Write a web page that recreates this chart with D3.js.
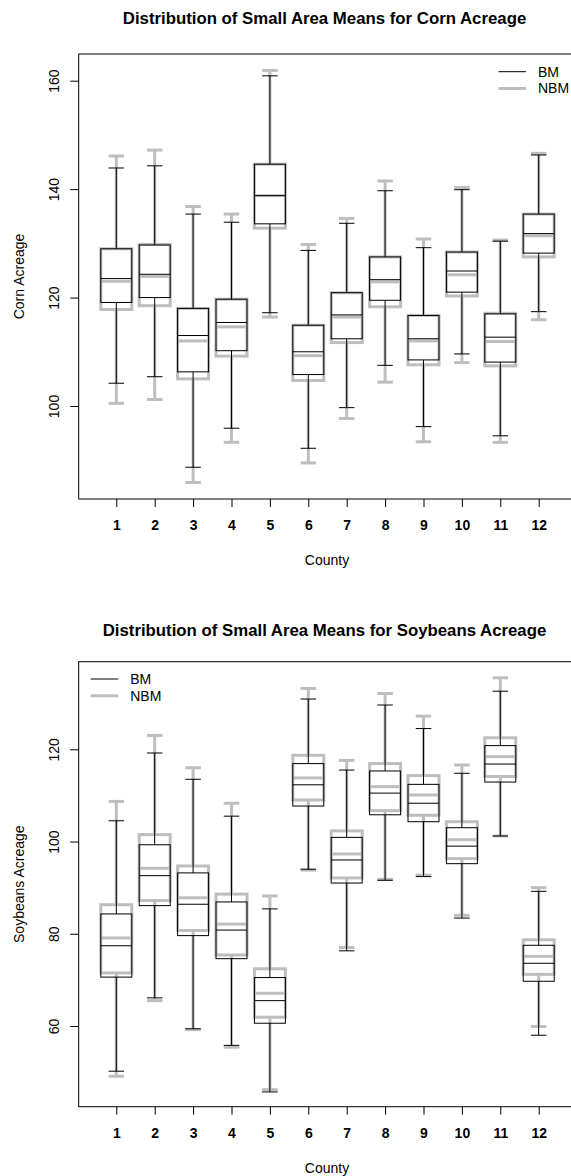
<!DOCTYPE html>
<html>
<head>
<meta charset="utf-8">
<script src="https://cdn.jsdelivr.net/npm/d3@7"></script>
<style>
  html, body { margin: 0; padding: 0; background: #fff; }
  svg { display: block; font-family: "Liberation Sans", Arial, Helvetica, sans-serif; }
</style>
</head>
<body>
<svg id="chart" width="571" height="1176"></svg>
<script>
// ---- data (five-number summaries: lower whisker, Q1, median, Q3, upper whisker) ----
const counties = [1, 2, 3, 4, 5, 6, 7, 8, 9, 10, 11, 12];
const cornTicks = [100, 120, 140, 160];
const soyTicks = [60, 80, 100, 120];
const seriesNames = ["BM", "NBM"];

const cornBM = [
  [104.2, 119.1, 123.5, 129.0, 143.9],
  [105.4, 120.0, 124.3, 129.7, 144.3],
  [88.7, 106.3, 113.0, 118.0, 135.4],
  [95.9, 110.2, 115.4, 119.7, 133.9],
  [117.2, 133.6, 138.8, 144.6, 160.9],
  [92.2, 105.8, 110.0, 114.9, 128.7],
  [99.7, 112.4, 116.8, 120.9, 133.7],
  [107.5, 119.5, 123.3, 127.5, 139.7],
  [96.2, 108.5, 112.4, 116.7, 129.2],
  [109.6, 121.0, 124.9, 128.4, 139.9],
  [94.5, 108.1, 112.7, 117.0, 130.4],
  [117.4, 128.2, 131.8, 135.4, 146.3]
];
const cornNBM = [
  [100.5, 117.8, 123.0, 129.0, 146.1],
  [101.2, 118.5, 123.9, 129.8, 147.2],
  [85.9, 105.0, 112.0, 118.0, 136.8],
  [93.3, 109.2, 114.6, 119.7, 135.4],
  [116.4, 132.8, 138.8, 144.6, 161.9],
  [89.5, 104.7, 109.3, 114.9, 129.8],
  [97.7, 111.7, 116.4, 120.9, 134.6],
  [104.4, 118.3, 122.9, 127.5, 141.5],
  [93.4, 107.6, 112.0, 116.7, 130.8],
  [108.0, 120.3, 124.2, 128.4, 140.3],
  [93.3, 107.4, 111.9, 117.1, 130.6],
  [115.9, 127.5, 131.4, 135.4, 146.6]
];
const soyBM = [
  [50.2, 70.6, 77.4, 84.3, 104.5],
  [66.1, 86.1, 92.6, 99.3, 119.2],
  [59.4, 79.6, 86.4, 93.2, 113.5],
  [55.8, 74.6, 80.8, 86.9, 105.5],
  [45.7, 60.6, 65.5, 70.5, 85.4],
  [94.0, 107.7, 112.3, 116.9, 130.9],
  [76.3, 91.0, 96.0, 100.9, 115.5],
  [91.6, 105.8, 110.5, 115.3, 129.6],
  [92.4, 104.3, 108.3, 112.4, 124.5],
  [83.4, 95.2, 99.0, 103.0, 114.8],
  [101.2, 112.9, 116.8, 120.8, 132.6],
  [58.0, 69.7, 73.6, 77.5, 89.2]
];
const soyNBM = [
  [49.1, 71.5, 79.1, 86.3, 108.7],
  [65.5, 87.2, 94.2, 101.5, 123.0],
  [59.2, 80.7, 87.8, 94.7, 116.0],
  [55.4, 75.4, 82.1, 88.6, 108.3],
  [46.2, 61.9, 67.1, 72.4, 88.2],
  [93.8, 109.0, 113.8, 118.7, 133.2],
  [77.0, 92.1, 97.3, 102.3, 117.6],
  [91.8, 106.7, 111.9, 116.9, 132.1],
  [92.7, 105.7, 110.1, 114.3, 127.2],
  [84.0, 96.3, 100.4, 104.3, 116.6],
  [101.2, 114.1, 118.4, 122.5, 135.5],
  [59.9, 71.2, 75.1, 78.7, 90.0]
];

// ---- drawing ----
const svg = d3.select("#chart");
const GRAY = "#bebebe";
const FRAME_L = 78.7, FRAME_R = 572;
const x = d3.scaleLinear().domain([1, 12]).range([116.3, 538.7]);
const BOX_W = 31;
const FS = 14;

function drawPanel(cfg) {
  const g = svg.append("g");
  const y = d3.scaleLinear().domain(cfg.domain).range(cfg.range);

  // title
  g.append("text")
    .attr("x", 324.5).attr("y", cfg.titleY)
    .attr("text-anchor", "middle")
    .attr("font-weight", "bold").attr("font-size", 16.8)
    .text(cfg.title);

  // boxes: NBM first (thick gray), then BM (thin black) on top
  const layers = [
    { data: cfg.nbm, color: GRAY, sw: 3 },
    { data: cfg.bm, color: "#000", sw: 1 }
  ];
  layers.forEach(layer => {
    const lg = g.append("g")
      .attr("stroke", layer.color)
      .attr("stroke-width", layer.sw)
      .attr("fill", "none");
    const boxes = lg.selectAll("g.box")
      .data(layer.data.map((d, i) => ({ c: counties[i], v: d })))
      .join("g").attr("class", "box");
    // whiskers
    boxes.append("line")
      .attr("x1", d => x(d.c)).attr("x2", d => x(d.c))
      .attr("y1", d => y(d.v[0])).attr("y2", d => y(d.v[1]));
    boxes.append("line")
      .attr("x1", d => x(d.c)).attr("x2", d => x(d.c))
      .attr("y1", d => y(d.v[3])).attr("y2", d => y(d.v[4]));
    // staples
    [0, 4].forEach(k => {
      boxes.append("line")
        .attr("x1", d => x(d.c) - BOX_W / 4).attr("x2", d => x(d.c) + BOX_W / 4)
        .attr("y1", d => y(d.v[k])).attr("y2", d => y(d.v[k]));
    });
    // box
    boxes.append("rect")
      .attr("x", d => x(d.c) - BOX_W / 2)
      .attr("width", BOX_W)
      .attr("y", d => y(d.v[3]))
      .attr("height", d => y(d.v[1]) - y(d.v[3]));
    // median
    boxes.append("line")
      .attr("x1", d => x(d.c) - BOX_W / 2).attr("x2", d => x(d.c) + BOX_W / 2)
      .attr("y1", d => y(d.v[2])).attr("y2", d => y(d.v[2]));
  });

  // frame
  g.append("rect")
    .attr("x", FRAME_L).attr("y", cfg.frameTop)
    .attr("width", FRAME_R - FRAME_L).attr("height", cfg.frameBottom - cfg.frameTop)
    .attr("fill", "none").attr("stroke", "#000").attr("stroke-width", 1);

  // y axis
  const ya = g.append("g")
    .attr("transform", `translate(${FRAME_L},0)`)
    .call(d3.axisLeft(y).tickValues(cfg.ticks).tickSize(8.5).tickPadding(0).tickFormat(d3.format("d")));
  ya.select(".domain").remove();
  ya.selectAll("line").attr("stroke", "#000");
  ya.selectAll("text")
    .attr("x", null).attr("dy", null)
    .attr("text-anchor", "middle")
    .attr("font-size", FS)
    .attr("font-family", "Liberation Sans, Arial, sans-serif")
    .attr("transform", "translate(-25,0) rotate(-90)")
    .attr("dy", "0.35em")
    .attr("fill", "#000");

  // x axis
  const xa = g.append("g")
    .attr("transform", `translate(0,${cfg.frameBottom})`)
    .call(d3.axisBottom(x).tickValues(counties).tickSize(8).tickPadding(13.5).tickFormat(d3.format("d")));
  xa.select(".domain").remove();
  xa.selectAll("line").attr("stroke", "#000");
  xa.selectAll("text")
    .attr("font-size", FS)
    .attr("font-weight", "bold")
    .attr("font-family", "Liberation Sans, Arial, sans-serif")
    .attr("fill", "#000");

  // axis labels
  g.append("text")
    .attr("x", 327).attr("y", cfg.frameBottom + 66)
    .attr("text-anchor", "middle").attr("font-size", FS)
    .text("County");
  g.append("text")
    .attr("transform", `translate(23.5,${(cfg.frameTop + cfg.frameBottom) / 2}) rotate(-90)`)
    .attr("text-anchor", "middle").attr("font-size", FS)
    .text(cfg.yLabel);

  // legend
  const leg = g.append("g");
  seriesNames.forEach((name, i) => {
    const ly = cfg.legendY + i * 16.8;
    leg.append("line")
      .attr("x1", cfg.legendX).attr("x2", cfg.legendX + 27.5)
      .attr("y1", ly).attr("y2", ly)
      .attr("stroke", i === 0 ? "#000" : GRAY)
      .attr("stroke-width", i === 0 ? 1 : 3);
    leg.append("text")
      .attr("x", cfg.legendX + 39.5).attr("y", ly)
      .attr("dy", "0.35em").attr("font-size", FS)
      .text(name);
  });
}

drawPanel({
  title: "Distribution of Small Area Means for Corn Acreage",
  yLabel: "Corn Acreage",
  titleY: 24,
  domain: [100, 160], range: [406, 80.7],
  frameTop: 54, frameBottom: 499,
  ticks: cornTicks,
  bm: cornBM, nbm: cornNBM,
  legendX: 498.5, legendY: 71.7
});

drawPanel({
  title: "Distribution of Small Area Means for Soybeans Acreage",
  yLabel: "Soybeans Acreage",
  titleY: 636,
  domain: [60, 120], range: [1026, 749.3],
  frameTop: 661.7, frameBottom: 1106.7,
  ticks: soyTicks,
  bm: soyBM, nbm: soyNBM,
  legendX: 90.7, legendY: 679
});
</script>
</body>
</html>
